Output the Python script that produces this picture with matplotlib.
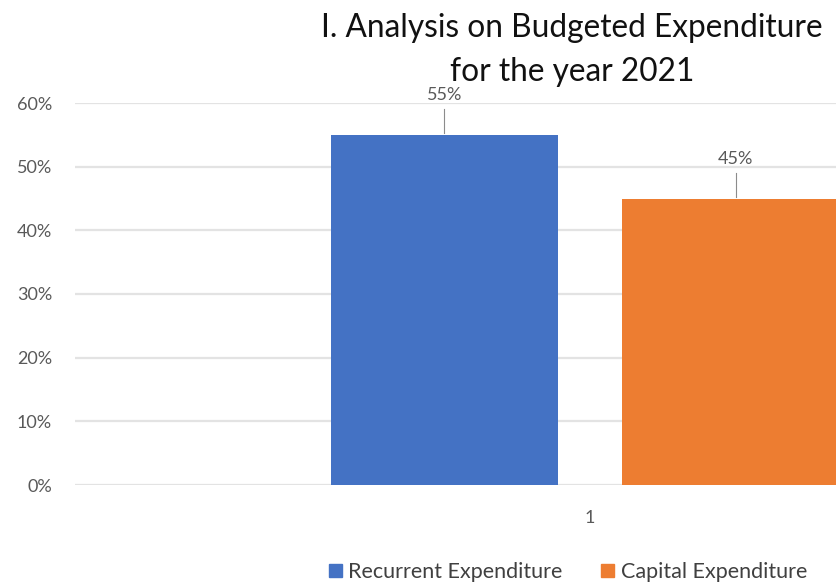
import matplotlib.pyplot as plt
from matplotlib.patches import Patch

# budget split for 2021
categories = ["1"]
series_names = ["Recurrent Expenditure", "Capital Expenditure"]
series_values = [55, 45]
series_colors = ["#4472C4", "#ED7D31"]
y_ticks = [0, 10, 20, 30, 40, 50, 60]
tick_labels = ["0%", "10%", "20%", "30%", "40%", "50%", "60%"]

plt.rcParams['font.family'] = ['Lato', 'DejaVu Sans']

fig = plt.figure(figsize=(8.36, 5.82), dpi=100)
# plot area runs off the right edge of the chart
ax = fig.add_axes([75 / 836, 97 / 582, 1030 / 836, 382 / 582])

bar_w = 0.22
gap = 0.063
offsets = [-(bar_w + gap) / 2, (bar_w + gap) / 2]

for i, (name, val, col) in enumerate(zip(series_names, series_values, series_colors)):
    x = 0 + offsets[i]
    ax.bar(x, val, width=bar_w, color=col, zorder=3, label=name)
    # callout label with a short leader line
    ax.plot([x, x], [val + 0.3, val + 4.0], color="#8c8c8c", lw=0.8, zorder=4)
    ax.text(x, val + 6.2, f"{val}%", ha="center", va="center",
            fontsize=13, color="#595959")

ax.set_xlim(-0.5, 0.5)
ax.set_ylim(0, 60)
ax.set_yticks(y_ticks)
ax.set_yticklabels(tick_labels, fontsize=13, color="#595959")
ax.set_xticks([0])
ax.set_xticklabels(categories, fontsize=13, color="#595959")
ax.tick_params(axis="y", length=0, pad=16.5)
ax.tick_params(axis="x", length=0, pad=18)
ax.grid(axis="y", color="#e3e3e3", lw=1.6, zorder=0)
for s in ax.spines.values():
    s.set_visible(False)

fig.text(572 / 836, 1 - 28 / 582, "I. Analysis on Budgeted Expenditure",
         ha="center", va="center", fontsize=22.8, color="#111111")
fig.text(572 / 836, 1 - 72 / 582, "for the year 2021",
         ha="center", va="center", fontsize=22.8, color="#111111")

handles = [Patch(color=c) for c in series_colors]
fig.legend(handles, series_names, loc="center", ncol=2,
           bbox_to_anchor=(568 / 836, 1 - 572 / 582), frameon=False,
           fontsize=15.5, handlelength=0.6, handleheight=0.6,
           handletextpad=0.3, columnspacing=1.8, borderpad=0)
for t in fig.legends[0].get_texts():
    t.set_color("#404040")

fig.savefig("out.png", dpi=100)
